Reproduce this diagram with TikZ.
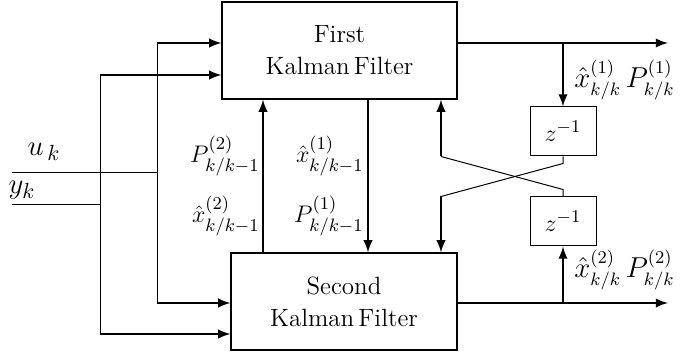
\documentclass[tikz,border=0pt]{standalone}
\usepackage{amsmath}
\usepackage{tikz}
\usetikzlibrary{arrows, positioning}
\tikzstyle{filter} = [rectangle, draw = black, line width = 0.6pt, align = center, inner sep = 0pt, font = \fontsize{12.5}{16}\selectfont]
\tikzstyle{delay} = [rectangle, draw = black, line width = 0.5pt, minimum width = 33pt, minimum height = 24.5pt, inner sep = 0pt, font = \fontsize{13}{15}\selectfont]
\tikzstyle{signal} = [inner sep = 1pt, font = \fontsize{13}{15}\selectfont]
\tikzstyle{bigsignal} = [inner sep = 1pt, font = \fontsize{15}{17}\selectfont]
\tikzstyle{outsignal} = [inner sep = 1pt, font = \fontsize{13.5}{16}\selectfont]
\tikzstyle{arrow} = [line width = 1.1pt, ->, > = latex]
\tikzstyle{wire} = [line width = 0.5pt]

\begin{document}
\begin{tikzpicture}[x = 0.5pt, y = -0.5pt]
\useasboundingbox (0,0) rectangle (682,353);

%NODES
\node (first) [filter, minimum width = 117.5pt, minimum height = 48.5pt] at (339.5,50.5) {First \\ Kalman\,Filter};
\node (second) [filter, minimum width = 113pt, minimum height = 48.5pt] at (344,301.5) {Second \\ Kalman\,Filter};
\node (zone) [delay] at (563,131.5) {$z^{-1}$};
\node (ztwo) [delay] at (563,221.5) {$z^{-1}$};

%LABELS
\node (uk) [bigsignal] at (44,152) {$u_{\,k}$};
\node (yk) [bigsignal] at (22,190) {$y_k$};
\node (ptwo) [signal, anchor = east] at (262,156) {$P^{(2)}_{k/k-1}$};
\node (xtwo) [signal, anchor = east] at (262,216) {$\hat{x}^{(2)}_{k/k-1}$};
\node (xone) [signal, anchor = east] at (366,156) {$\hat{x}^{(1)}_{k/k-1}$};
\node (pone) [signal, anchor = east] at (366,216) {$P^{(1)}_{k/k-1}$};
\node (outone) [outsignal, anchor = west] at (572,80) {$\hat{x}^{(1)}_{k/k}\, P^{(1)}_{k/k}$};
\node (outtwo) [outsignal, anchor = west] at (572,270) {$\hat{x}^{(2)}_{k/k}\, P^{(2)}_{k/k}$};

%POINTS
\coordinate (ustart) at (12,173);
\coordinate (ystart) at (12,205);
\coordinate (utop) at (157,43);
\coordinate (ubot) at (157,303);
\coordinate (ytop) at (100,75);
\coordinate (ybot) at (100,334);
\coordinate (up) at (263,0);
\coordinate (down) at (368,0);
\coordinate (back) at (441,0);
\coordinate (tap) at (563,0);
\coordinate (endone) at (668,43);
\coordinate (endtwo) at (668,303);

%INPUTS
\draw [wire] (ustart) -- (ustart -| utop);
\draw [wire] (ystart) -- (ystart -| ytop);
\draw [wire] (utop) -- (ubot);
\draw [wire] (ytop) -- (ybot);
\draw [arrow] (utop) -- (utop -| first.west);
\draw [arrow] (ytop) -- (ytop -| first.west);
\draw [arrow] (ubot) -- (ubot -| second.west);
\draw [arrow] (ybot) -- (ybot -| second.west);

%BETWEEN FILTERS
\draw [arrow] (up |- second.north) -- (up |- first.south);
\draw [arrow] (down |- first.south) -- (down |- second.north);

%OUTPUTS
\draw [arrow] (endone -| first.east) -- (endone);
\draw [arrow] (endtwo -| second.east) -- (endtwo);
\draw [arrow] (tap |- endone) -- (zone.north);
\draw [arrow] (tap |- endtwo) -- (ztwo.south);

%FEEDBACK
\draw [wire] (zone.south) -- ++(0,7) -- (back |- ztwo.north);
\draw [arrow] (back |- ztwo.north) -- (back |- second.north);
\draw [wire] (ztwo.north) -- ++(0,-7) -- (back |- zone.south);
\draw [arrow] (back |- zone.south) -- (back |- first.south);

\end{tikzpicture}
\end{document}
